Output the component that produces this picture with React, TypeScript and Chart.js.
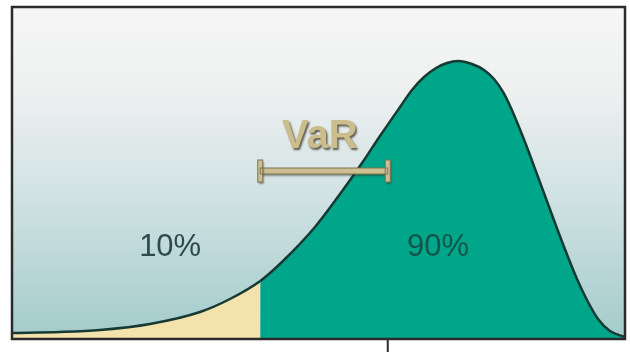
import React, { useEffect, useRef } from "react";
import { Chart, registerables } from "chart.js";

Chart.register(...registerables);

// Return axis (0..100) and the density curve sampled along it
const returnsX = [0, 7.83, 14.36, 22.51, 30.67, 35.56, 40.5, 44.21, 49.43, 53.51, 57.1, 60.03, 63.3, 65.25, 67.21, 69.17, 70.96, 72.76, 75.04, 77.0, 78.63, 80.1, 81.4, 82.71, 84.18, 85.81, 87.44, 89.07, 90.7, 92.17, 93.8, 95.6, 97.55, 100];
const density = [1.81, 2.11, 2.71, 4.52, 8.13, 12.05, 17.47, 23.49, 33.73, 43.67, 53.01, 61.14, 69.88, 75.0, 78.92, 81.63, 83.13, 83.73, 82.83, 81.02, 78.31, 74.4, 69.58, 63.86, 56.93, 48.8, 40.66, 32.53, 24.7, 18.07, 11.75, 6.02, 2.41, 0.6];

// 10% quantile cut-off and the expected value (tick on the axis)
const cutoffX = 40.5;
const meanX = 61.3;

// Region labels
const tailLabel = "10%";
const bodyLabel = "90%";
const varLabel = "VaR";
const tailLabelPos = [25.8, 27.7];
const bodyLabelPos = [69.5, 27.7];
const varLabelPos = [50.2, 60.8];
const varBarY = 50.6;

const TAIL_COLOR = "#f4e2ad";
const BODY_COLOR = "#00a68a";
const CURVE_COLOR = "#163a33";
const FONT = '"Liberation Sans", Arial, sans-serif';

const backdrop = {
  id: "backdrop",
  beforeDraw(chart: any) {
    const { ctx, chartArea: a } = chart;
    const g = ctx.createLinearGradient(0, a.top, 0, a.bottom);
    g.addColorStop(0, "#f6f6f6");
    g.addColorStop(0.25, "#eef0f0");
    g.addColorStop(0.55, "#d3e3e4");
    g.addColorStop(1, "#a3cbcb");
    ctx.save();
    ctx.fillStyle = g;
    ctx.fillRect(a.left, a.top, a.right - a.left, a.bottom - a.top);
    ctx.restore();
  },
};

const overlay = {
  id: "overlay",
  afterDatasetsDraw(chart: any) {
    const { ctx, chartArea: a, scales } = chart;
    const x = scales.x;
    const y = scales.y;
    ctx.save();

    // frame
    ctx.strokeStyle = "#2b2b2b";
    ctx.lineWidth = 2.5;
    ctx.strokeRect(a.left, a.top, a.right - a.left, a.bottom - a.top);

    // axis tick at the expected value
    const mx = x.getPixelForValue(meanX);
    ctx.lineWidth = 2;
    ctx.beginPath();
    ctx.moveTo(mx, a.bottom);
    ctx.lineTo(mx, a.bottom + 13);
    ctx.stroke();

    // region labels
    ctx.font = `31px ${FONT}`;
    ctx.textAlign = "center";
    ctx.textBaseline = "middle";
    ctx.fillStyle = "#2e4b4b";
    ctx.fillText(tailLabel, x.getPixelForValue(tailLabelPos[0]), y.getPixelForValue(tailLabelPos[1]));
    ctx.fillStyle = "#145449";
    ctx.fillText(bodyLabel, x.getPixelForValue(bodyLabelPos[0]), y.getPixelForValue(bodyLabelPos[1]));

    // VaR range bar
    const x0 = x.getPixelForValue(cutoffX);
    const x1 = x.getPixelForValue(meanX);
    const by = y.getPixelForValue(varBarY);
    ctx.shadowColor = "rgba(40,40,20,0.45)";
    ctx.shadowOffsetX = 1;
    ctx.shadowOffsetY = 2;
    ctx.shadowBlur = 2;
    ctx.fillStyle = "#cdbf92";
    ctx.fillRect(x0, by - 3, x1 - x0, 6);
    ctx.fillRect(x0 - 2.5, by - 11, 5, 22);
    ctx.fillRect(x1 - 2.5, by - 11, 5, 22);
    ctx.shadowColor = "transparent";
    ctx.strokeStyle = "#7d7552";
    ctx.lineWidth = 1;
    ctx.strokeRect(x0, by - 3, x1 - x0, 6);
    ctx.strokeRect(x0 - 2.5, by - 11, 5, 22);
    ctx.strokeRect(x1 - 2.5, by - 11, 5, 22);

    // VaR caption
    ctx.font = `bold 40px ${FONT}`;
    ctx.shadowColor = "rgba(50,45,25,0.75)";
    ctx.shadowOffsetX = 1.5;
    ctx.shadowOffsetY = 2;
    ctx.shadowBlur = 2;
    ctx.fillStyle = "#cbbd8c";
    ctx.fillText(varLabel, x.getPixelForValue(varLabelPos[0]), y.getPixelForValue(varLabelPos[1]));
    ctx.restore();
  },
};

export default function App() {
  const ref = useRef<HTMLCanvasElement>(null);

  useEffect(() => {
    if (!ref.current) return;
    const points = returnsX.map((v, i) => ({ x: v, y: density[i] }));
    const chart = new Chart(ref.current, {
      type: "line",
      data: {
        datasets: [
          {
            data: points,
            borderColor: CURVE_COLOR,
            borderWidth: 2.5,
            backgroundColor: BODY_COLOR,
            fill: "origin",
            pointRadius: 0,
            cubicInterpolationMode: "monotone",
            segment: {
              backgroundColor: (c: any) => (c.p0.parsed.x < cutoffX ? TAIL_COLOR : BODY_COLOR),
            },
          },
        ],
      },
      options: {
        animation: false,
        responsive: false,
        devicePixelRatio: 1,
        layout: { padding: { left: 12, top: 7, right: 5, bottom: 15 } },
        scales: {
          x: { type: "linear", min: 0, max: 100, display: false },
          y: { min: 0, max: 100, display: false },
        },
        plugins: { legend: { display: false }, tooltip: { enabled: false } },
      },
      plugins: [backdrop, overlay],
    });
    return () => chart.destroy();
  }, []);

  return (
    <div style={{ position: "absolute", left: 0, top: 0, width: 630, height: 354, background: "#ffffff" }}>
      <canvas ref={ref} width={630} height={354} />
    </div>
  );
}
